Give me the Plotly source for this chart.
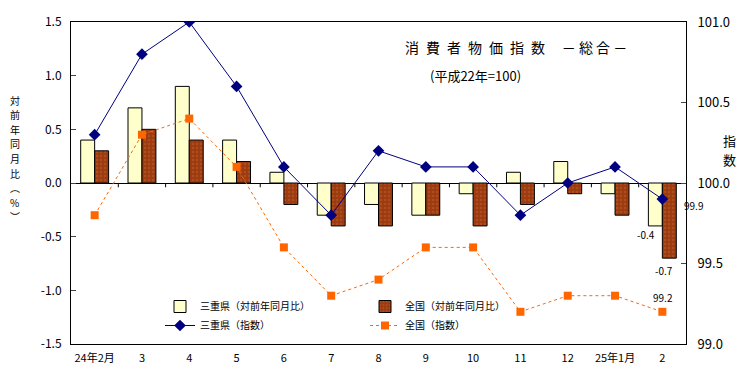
import plotly.graph_objects as go

categories = ["24年2月", "3", "4", "5", "6", "7", "8", "9", "10", "11", "12", "25年1月", "2"]
mie_yoy = [0.4, 0.7, 0.9, 0.4, 0.1, -0.3, -0.2, -0.3, -0.1, 0.1, 0.2, -0.1, -0.4]
zen_yoy = [0.3, 0.5, 0.4, 0.2, -0.2, -0.4, -0.4, -0.3, -0.4, -0.2, -0.1, -0.3, -0.7]
mie_idx = [100.3, 100.8, 101.0, 100.6, 100.1, 99.8, 100.2, 100.1, 100.1, 99.8, 100.0, 100.1, 99.9]
zen_idx = [99.8, 100.3, 100.4, 100.1, 99.6, 99.3, 99.4, 99.6, 99.6, 99.2, 99.3, 99.3, 99.2]
left_ticks = [-1.5, -1.0, -0.5, 0.0, 0.5, 1.0, 1.5]
right_ticks = [99.0, 99.5, 100.0, 100.5, 101.0]

FONT = "Noto Sans CJK JP"

fig = go.Figure()
fig.add_trace(go.Bar(
    x=categories, y=mie_yoy, name="三重県（対前年同月比）", legend="legend",
    marker=dict(color="#FFFFCC", line=dict(color="black", width=1)),
))
fig.add_trace(go.Bar(
    x=categories, y=zen_yoy, name="全国（対前年同月比）", legend="legend2",
    marker=dict(color="#9C3A10", line=dict(color="black", width=1),
                pattern=dict(shape=".", fgcolor="#C0602A", size=4, solidity=0.3)),
))
fig.add_trace(go.Scatter(
    x=categories, y=mie_idx, name="三重県（指数）", yaxis="y2", mode="lines+markers",
    legend="legend",
    line=dict(color="#000080", width=1),
    marker=dict(symbol="diamond", size=9, color="#000080"),
))
fig.add_trace(go.Scatter(
    x=categories, y=zen_idx, name="全国（指数）", yaxis="y2", mode="lines+markers",
    legend="legend2",
    line=dict(color="#FF6600", width=1, dash="dot"),
    marker=dict(symbol="square", size=8, color="#FF6600"),
))

# small tick marks on the zero line at category boundaries
for i in range(len(categories) - 1):
    fig.add_shape(type="line", xref="x", yref="y", x0=i + 0.5, x1=i + 0.5, y0=0, y1=-0.04,
                  line=dict(color="black", width=1))

last = len(categories) - 1
lab_font = dict(size=10, family=FONT, color="black")
ann = []
ann.append(dict(x=last, y=mie_idx[-1], yref="y2", xref="x", text=f"{mie_idx[-1]:.1f}",
                showarrow=False, xshift=31, yshift=-6, font=lab_font))
ann.append(dict(x=last, y=zen_idx[-1], yref="y2", xref="x", text=f"{zen_idx[-1]:.1f}",
                showarrow=False, xshift=1, yshift=14, font=lab_font))
ann.append(dict(x=last, y=mie_yoy[-1], yref="y", xref="x", text=f"{mie_yoy[-1]:.1f}",
                showarrow=False, xshift=-16, yshift=-9, font=lab_font))
ann.append(dict(x=last, y=zen_yoy[-1], yref="y", xref="x", text=f"{zen_yoy[-1]:.1f}",
                showarrow=False, xshift=2, yshift=-12, font=lab_font))

pix = []
pix.append(dict(x=516, y=47, text="消\u2002費\u2002者\u2002物\u2002価\u2002指\u2002数\u3000\u2009－ 総 合 －", size=14))
pix.append(dict(x=475, y=75, text="(平成22年=100)", size=13))
for k, ch in enumerate(list("対前年同月比") + ["︵", "%", "︶"]):
    pix.append(dict(x=15, y=100 + k * 14.6, text=ch, size=10))
pix.append(dict(x=729, y=140, text="指", size=13))
pix.append(dict(x=729, y=159, text="数", size=13))

L, R, T, B = 71, 58, 22, 34
W, H = 744, 378
pw, ph = W - L - R, H - T - B
for p in pix:
    ann.append(dict(x=(p["x"] - L) / pw, y=(H - B - p["y"]) / ph, xref="paper", yref="paper",
                    xanchor="center", yanchor="middle", text=p["text"], showarrow=False,
                    borderpad=0, font=dict(size=p["size"], family=FONT, color="black")))

leg_common = dict(orientation="v", yanchor="top", xanchor="left", bgcolor="rgba(0,0,0,0)",
                  font=dict(size=10, family=FONT), tracegroupgap=0, itemwidth=30)

fig.update_layout(
    width=W, height=H,
    margin=dict(l=L, r=R, t=T, b=B, autoexpand=False),
    plot_bgcolor="white", paper_bgcolor="white",
    barmode="group", bargap=0.41, bargroupgap=0,
    font=dict(family=FONT, color="black", size=11),
    showlegend=True,
    legend=dict(x=(160 - L) / pw, y=(H - B - 292) / ph, **leg_common),
    legend2=dict(x=(365 - L) / pw, y=(H - B - 292) / ph, **leg_common),
    annotations=ann,
    xaxis=dict(type="category", range=[-0.5, len(categories) - 0.5],
               showline=True, linecolor="black", linewidth=1, mirror=True,
               ticks="", showgrid=False, tickfont=dict(size=11), ticklabelstandoff=4),
    yaxis=dict(range=[-1.5, 1.5], tickvals=left_ticks, ticktext=[f"{v:.1f}" for v in left_ticks],
               showline=True, linecolor="black", linewidth=1, ticks="inside", ticklen=5,
               showgrid=False, zeroline=True, zerolinecolor="black", zerolinewidth=1,
               tickfont=dict(size=12), ticklabelstandoff=6),
    yaxis2=dict(range=[99.0, 101.0], overlaying="y", side="right", tickvals=right_ticks,
                ticktext=[f"{v:.1f}" for v in right_ticks], showline=True, linecolor="black",
                linewidth=1, ticks="inside", ticklen=5, showgrid=False, zeroline=False,
                tickfont=dict(size=13), ticklabelstandoff=8),
)

fig.write_html("out.html", config={"displayModeBar": False},
               post_script="document.body.style.margin='0px';document.body.style.padding='0px';")
